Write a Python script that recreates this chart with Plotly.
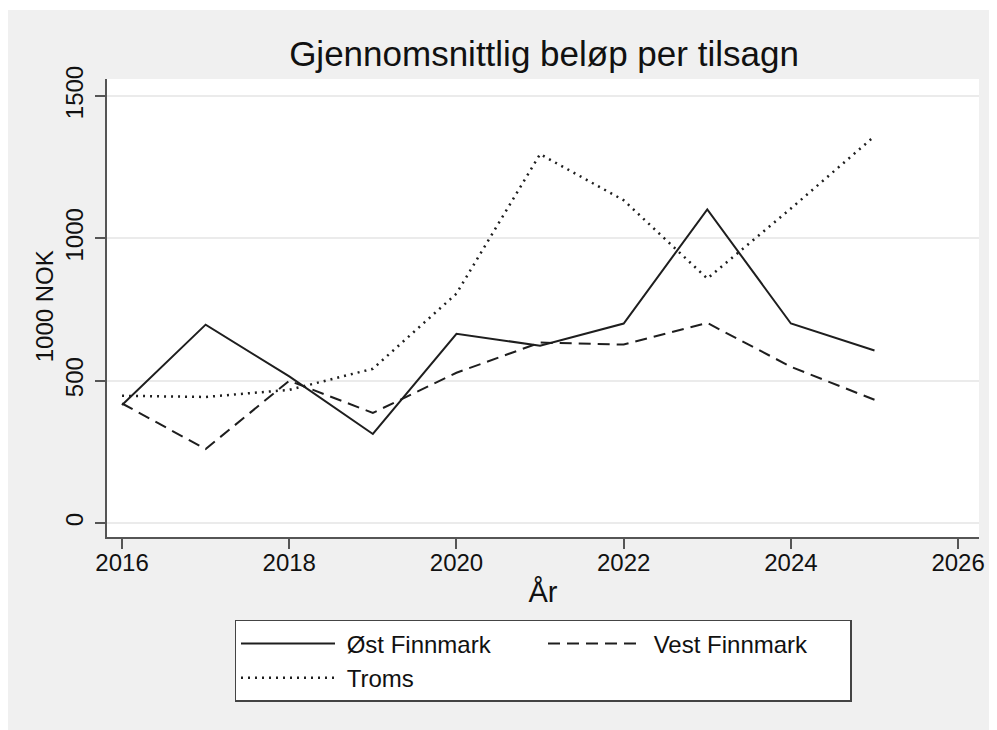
import plotly.graph_objects as go

years = [2016, 2017, 2018, 2019, 2020, 2021, 2022, 2023, 2024, 2025]
ost_finnmark = [415, 697, 515, 313, 665, 623, 701, 1102, 701, 606]
vest_finnmark = [420, 260, 500, 387, 528, 634, 627, 703, 549, 433]
troms = [447, 443, 468, 542, 806, 1296, 1134, 859, 1105, 1359]

x_ticks = [2016, 2018, 2020, 2022, 2024, 2026]
y_ticks = [0, 500, 1000, 1500]

font = "Liberation Sans, Arial, sans-serif"
ink = "#1e1e1e"
axis_col = "#555555"
pad = "\u00a0"  # small gap between legend line and label

fig = go.Figure()
fig.add_trace(go.Scatter(x=years, y=ost_finnmark, mode="lines", name=pad + "Øst Finnmark",
                         line=dict(color=ink, width=2)))
fig.add_trace(go.Scatter(x=years, y=vest_finnmark, mode="lines", name=pad + "Vest Finnmark",
                         line=dict(color=ink, width=2, dash="12px,7px")))
fig.add_trace(go.Scatter(x=years, y=troms, mode="lines", name=pad + "Troms",
                         line=dict(color=ink, width=2.5, dash="2px,5px")))

# page body adds an 8px white margin, so the figure is 8px smaller than the window
fig.update_layout(
    width=989, height=722,
    margin=dict(l=99, r=16, t=71, b=193),
    paper_bgcolor="#f0f0f0", plot_bgcolor="white",
    font=dict(family=font, size=24, color="#111111"),
    title=dict(text="Gjennomsnittlig beløp per tilsagn", x=536 / 989, xanchor="center",
               y=1 - 46 / 722, yanchor="middle", font=dict(size=35, color="#111111")),
    legend=dict(orientation="h", x=0.5, xanchor="center", y=-0.181, yanchor="top",
                bgcolor="white", bordercolor="#444444", borderwidth=1.5,
                entrywidth=198, itemwidth=94, font=dict(size=24),
                tracegroupgap=0),
)

fig.update_xaxes(range=[2015.82, 2026.25], tickvals=x_ticks, showgrid=False, zeroline=False,
                 showline=True, linecolor=axis_col, linewidth=1.5,
                 ticks="outside", ticklen=10, tickwidth=1.5, tickcolor=axis_col,
                 ticklabelstandoff=-7,
                 title=dict(text="År", standoff=7))
fig.update_yaxes(range=[-49, 1560], tickvals=y_ticks, showgrid=True, gridcolor="#ebebeb",
                 gridwidth=2, zeroline=False,
                 showline=True, linecolor=axis_col, linewidth=1.5,
                 ticks="outside", ticklen=10, tickwidth=1.5, tickcolor=axis_col,
                 tickangle=-90, ticklabelstandoff=3)

# y axis title placed as an annotation for exact positioning
fig.add_annotation(text="1000 NOK", textangle=-90, xref="paper", yref="paper",
                   x=-0.0715, y=0.503, xanchor="center", yanchor="middle",
                   showarrow=False, font=dict(size=24, color="#111111"))

# thin extra white strip at the very top
fig.add_shape(type="rect", xref="paper", yref="paper", x0=-0.2, x1=1.2, y0=1.1507, y1=1.3,
              fillcolor="white", line_width=0, layer="below")

fig.write_html("out.html")
